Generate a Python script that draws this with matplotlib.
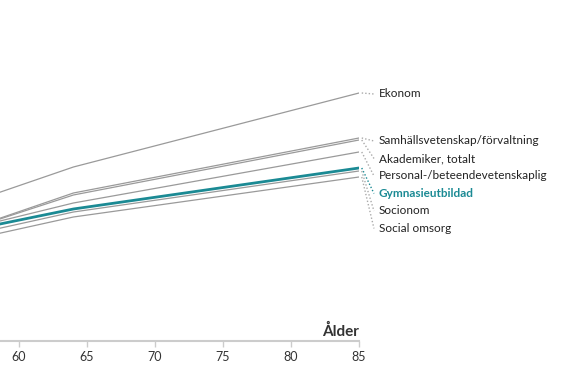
import matplotlib.pyplot as plt

plt.rcParams['font.family'] = ['Lato', 'DejaVu Sans']

ages = [55, 64, 85]

ekonom = [132, 174, 248]
samhall = [106, 148, 203]
akademiker = [106, 146, 201]
personal = [108, 138, 189]
gymnasie = [107, 132, 173]
socionom = [102, 129, 170]
social_omsorg = [97, 124, 164]

names = ['Ekonom', 'Samhällsvetenskap/förvaltning', 'Akademiker, totalt',
         'Personal-/beteendevetenskaplig', 'Gymnasieutbildad', 'Socionom',
         'Social omsorg']
series = [ekonom, samhall, akademiker, personal, gymnasie, socionom, social_omsorg]
highlight = 'Gymnasieutbildad'

xticks = [60, 65, 70, 75, 80, 85]

gray = '#9a9a9a'
teal = '#1b8a94'

fig = plt.figure(figsize=(5.63, 3.75), dpi=100)
ax = fig.add_axes([0, 0.0907, 0.6377, 0.9093])

for name, vals in zip(names, series):
    if name == highlight:
        ax.plot(ages, vals, color=teal, lw=2, zorder=3)
    else:
        ax.plot(ages, vals, color=gray, lw=0.9, zorder=2)

# labels: first one at its line end, the rest stacked below
gap = 17.5
label_y = [ekonom[-1] - 1]
for i in range(1, len(names)):
    if i == 1:
        label_y.append(series[1][-1] - 3)
    else:
        label_y.append(label_y[-1] - gap)

for name, vals, ly in zip(names, series, label_y):
    c = teal if name == highlight else '#aaaaaa'
    ax.plot([85.2, 86.1], [vals[-1], ly], color=c, lw=1, ls=(0, (1, 1.5)),
            clip_on=False)
    ax.text(86.45, ly, name, va='center', ha='left', fontsize=8.5,
            color=teal if name == highlight else '#222222',
            fontweight='bold' if name == highlight else 'normal')

ax.set_xlim(58.6, 85)
ax.set_ylim(0, 341)
for s in ['top', 'right', 'left']:
    ax.spines[s].set_visible(False)
ax.spines['bottom'].set_color('#cccccc')
ax.spines['bottom'].set_linewidth(1.5)
ax.set_yticks([])
ax.set_xticks(xticks)
ax.tick_params(axis='x', colors='#cccccc', length=4, width=1, labelsize=9,
               labelcolor='#333333', pad=3)
ax.text(85, 2, 'Ålder', ha='right', va='bottom', fontsize=11,
        fontweight='bold', color='#333333')

fig.savefig('out.png', dpi=100)
